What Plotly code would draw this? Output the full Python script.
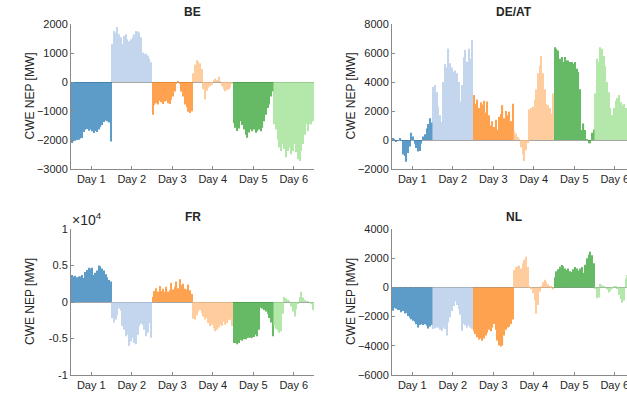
import numpy as np
import plotly.graph_objects as go

# ---------------- data (MW), 6 days x 24 hours per zone ----------------
day_labels = ["Day 1", "Day 2", "Day 3", "Day 4", "Day 5", "Day 6"]
zones = ["BE", "DE/AT", "FR", "NL"]

be_values = [
    -2100, -2050, -2030, -2000, -1990, -1950, -1930, -1720, -1650, -1620, -1680, -1640,
    -1700, -1760, -1690, -1720, -1640, -1560, -1480, -1380, -1330, -1350, -1400, -2050,
    1300, 1760, 1700, 1900, 1650, 1540, 1300, 1590, 1650, 1470, 1400, 1470,
    1540, 1650, 1760, 1740, 1700, 1540, 1020, 970, 970, 910, 800, 680,
    -1130, -790, -730, -780, -650, -700, -760, -670, -650, -730, -760, -610,
    -500, -330, -50, 20, -40, -330, -500, -780, -870, -1030, -1070, -1010,
    300, 600, 750, 700, 650, 450, -250, -600, -300, -200, -150, -100,
    60, 120, 60, 180, 20, -150, -250, -330, -280, -250, -180, -60,
    -1420, -1580, -1690, -1600, -1350, -1480, -1640, -1820, -1920, -1740, -1640, -1700,
    -1640, -1750, -1700, -1640, -1700, -1580, -1350, -1130, -900, -780, -500, -330,
    -1460, -1640, -1980, -2260, -2380, -2140, -2310, -2600, -2380, -2260, -2490, -2380,
    -2140, -2420, -2660, -2720, -2380, -2140, -1820, -1460, -1700, -1460, -1460, -1350,
]
deat_values = [
    80, 60, -100, -60, 130, -40, -1000, -1100, -1500, -900, -450, 500,
    250, -250, -550, -800, -750, -250, 250, 400, 800, 1100, 1500, 1200,
    3660, 3800, 3300, 2300, 1700, 1250, 4000, 5250, 5000, 6300, 5300, 5000,
    4700, 4800, 4600, 4000, 2650, 3800, 5700, 6200, 5400, 6300, 5600, 6900,
    3100, 2500, 2800, 2200, 2600, 2450, 2700, 1900, 2650, 1700, 1000, 1300,
    900, 1400, 700, 1600, 1800, 2400, 1500, 2000, 1700, 1950, 1300, 2500,
    600, 450, 200, 50, -500, -1000, -1450, -700, -200, 2100, 2200, 2300,
    2800, 3500, 4600, 5100, 5800, 4600, 3500, 2500, 2400, 2200, 1800, 3200,
    6400, 6290, 6180, 5600, 5720, 5380, 5720, 5490, 5490, 5380, 5380, 5260,
    5380, 4920, 4690, 3500, 690, 1140, 690, 50, -230, -230, 500, 700,
    3200, 5600, 5400, 6400, 6300, 5800, 5100, 4000, 3300, 2200, 1700, 2200,
    2700, 2900, 3100, 2600, 2400, 2500, 2200, 1700, 1200, 900, 700, 600,
]
fr_values = [
    3700, 3500, 3600, 3400, 3500, 3500, 3700, 3300, 4100, 4400, 4700, 4600,
    4700, 3700, 4000, 4300, 5000, 4900, 4600, 4300, 3800, 3400, 3000, 2800,
    -2200, -2800, -2400, -1800, -900, -1200, -3300, -3800, -4700, -4500, -6000, -5400,
    -4900, -5600, -5800, -4500, -3300, -3000, -3100, -3800, -4700, -4200, -2900, -4900,
    700, 1500, 1900, 1400, 2200, 1500, 1800, 1400, 2100, 1400, 1600, 2600,
    1700, 2100, 2800, 1900, 3100, 2300, 2500, 1800, 1700, 2400, 1600, 1100,
    -2300, -2400, -1800, -1300, -1100, -1500, -2000, -2400, -2200, -2900, -3300, -3100,
    -3600, -4000, -3800, -3500, -3100, -3300, -2700, -3100, -2900, -2500, -2400, -3300,
    -5600, -5600, -5800, -5600, -5200, -5300, -5100, -5100, -4900, -4900, -4900, -4900,
    -4800, -4500, -4700, -3800, -800, -900, -1100, -1300, -1600, -2200, -2800, -4700,
    -3300, -3700, -3900, -4200, -4000, -1600, 700, 500, 300, 100, -600, -1300,
    -2000, -1000, -200, 700, 1400, 600, 200, 100, 100, -100, -300, -1100,
]
nl_values = [
    -1600, -1400, -1460, -1550, -1550, -1700, -1620, -1780, -1750, -1960, -2070, -2180,
    -2290, -2360, -2520, -2740, -2580, -2520, -2580, -2520, -2630, -2810, -2670, -2580,
    -2850, -2800, -2750, -2750, -2900, -2970, -2750, -2850, -3300, -2400, -2050, -1620,
    -1280, -950, -1200, -1500, -1850, -2970, -2500, -2600, -2750, -2600, -2750, -2850,
    -3000, -3200, -3420, -3570, -3500, -3650, -3500, -3300, -3100, -2900, -3000, -2740,
    -2500, -2900, -3640, -3980, -4050, -3980, -3300, -2900, -2750, -2700, -2500, -2200,
    1200, 1400, 1450, 1500, 1300, 1650, 1900, 2100, 1400, 100, -100, -400,
    -900, -1800, -1200, -300, 100, 350, 520, 380, 220, 100, 50, -150,
    700, 1100, 1250, 1420, 1530, 1450, 1300, 1200, 1300, 1100, 1050, 1250,
    1400, 1300, 1150, 1300, 1400, 1000, 1550, 2000, 2250, 2450, 2200, 1650,
    -100, -750, -700, 250, 150, 50, 0, -150, -350, -250, -50, 100,
    50, -100, -500, -800, -1050, -900, 600, 850, 700, 500, 300, 200,
]

be_ticks = [-3000, -2000, -1000, 0, 1000, 2000]
deat_ticks = [-2000, 0, 2000, 4000, 6000, 8000]
fr_ticks = [-10000, -5000, 0, 5000, 10000]
fr_ticktext = ["-1", "-0.5", "0", "0.5", "1"]
nl_ticks = [-6000, -4000, -2000, 0, 2000, 4000]

day_colors = ["#1f77b4", "#aec7e8", "#ff7f0e", "#ffbb78", "#2ca02c", "#98df8a"]

# ---------------- layout geometry ----------------
W, H = 627, 393
FONT = "Liberation Sans, Arial, Helvetica, sans-serif"
TXT = "#262626"
AX = "#8a8a8a"

panels = [
    # values, yrange, ticks, ticktext, x-domain px, y-domain px (top, bottom), xmax
    (be_values, [-3000, 2000], be_ticks, None, (71, 314), (24, 169), 144.5),
    (deat_values, [-2000, 8000], deat_ticks, None, (392, 627), (24, 169), 139.76),
    (fr_values, [-10000, 10000], fr_ticks, fr_ticktext, (71, 314), (229, 375), 144.5),
    (nl_values, [-6000, 4000], nl_ticks, None, (392, 627), (229, 375), 139.76),
]

fig = go.Figure()
hours = np.arange(1, 145)
tickpos = [24 * d + 12.5 for d in range(6)]

annotations = []
for i, (vals, yr, yt, ytt, (x0, x1), (ytop, ybot), xmax) in enumerate(panels):
    n = "" if i == 0 else str(i + 1)
    vals = np.array(vals)
    for d in range(6):
        sl = slice(24 * d, 24 * d + 24)
        fig.add_trace(go.Bar(
            x=hours[sl], y=vals[sl], marker=dict(color=day_colors[d], line=dict(width=0)),
            opacity=0.72, xaxis="x" + n, yaxis="y" + n, showlegend=False,
            hoverinfo="x+y",
        ))
    xd = [x0 / W, x1 / W]
    yd = [1 - ybot / H, 1 - ytop / H]
    fig.layout["xaxis" + n] = dict(
        domain=xd, anchor="y" + n, range=[0.5, xmax], automargin=False,
        tickvals=tickpos, ticktext=day_labels, ticks="inside", ticklen=3,
        ticklabeloverflow="allow",
        tickcolor=AX, showline=True, linecolor=AX, linewidth=1,
        showgrid=False, zeroline=False, tickfont=dict(size=11, color=TXT, family=FONT),
    )
    yax = dict(
        domain=yd, anchor="x" + n, range=yr, tickvals=yt, ticks="inside", ticklen=3,
        automargin=False,
        tickcolor=AX, showline=True, linecolor=AX, linewidth=1, showgrid=False,
        zeroline=True, zerolinecolor="#a6a6a6", zerolinewidth=1,
        tickfont=dict(size=11, color=TXT, family=FONT),
    )
    if ytt is not None:
        yax["ticktext"] = ytt
    fig.layout["yaxis" + n] = yax
    # title
    annotations.append(dict(
        text="<b>" + zones[i] + "</b>", xref="paper", yref="paper",
        x=(x0 + (x0 + 243)) / 2 / W, y=1 - (ytop - 12) / H, xanchor="center", yanchor="middle",
        showarrow=False, font=dict(size=12, color=TXT, family=FONT),
    ))
    # y axis title
    annotations.append(dict(
        text="CWE NEP [MW]", xref="paper", yref="paper", textangle=-90,
        x=(x0 - 41) / W, y=1 - (ytop + ybot) / 2 / H, xanchor="center", yanchor="middle",
        showarrow=False, font=dict(size=12, color=TXT, family=FONT),
    ))

annotations.append(dict(
    text="×10<sup>4</sup>", xref="paper", yref="paper", x=70 / W, y=1 - 230 / H,
    xanchor="left", yanchor="bottom", showarrow=False,
    font=dict(size=14, color=TXT, family=FONT),
))

fig.update_layout(
    width=W, height=H, margin=dict(l=0, r=0, t=0, b=0),
    paper_bgcolor="white", plot_bgcolor="white", barmode="relative",
    bargap=0.3, annotations=annotations, font=dict(family=FONT, color=TXT),
)

fig.write_html(
    "out.html",
    config={"displayModeBar": False},
    post_script="document.body.style.margin='0px';document.body.style.overflow='hidden';",
)
